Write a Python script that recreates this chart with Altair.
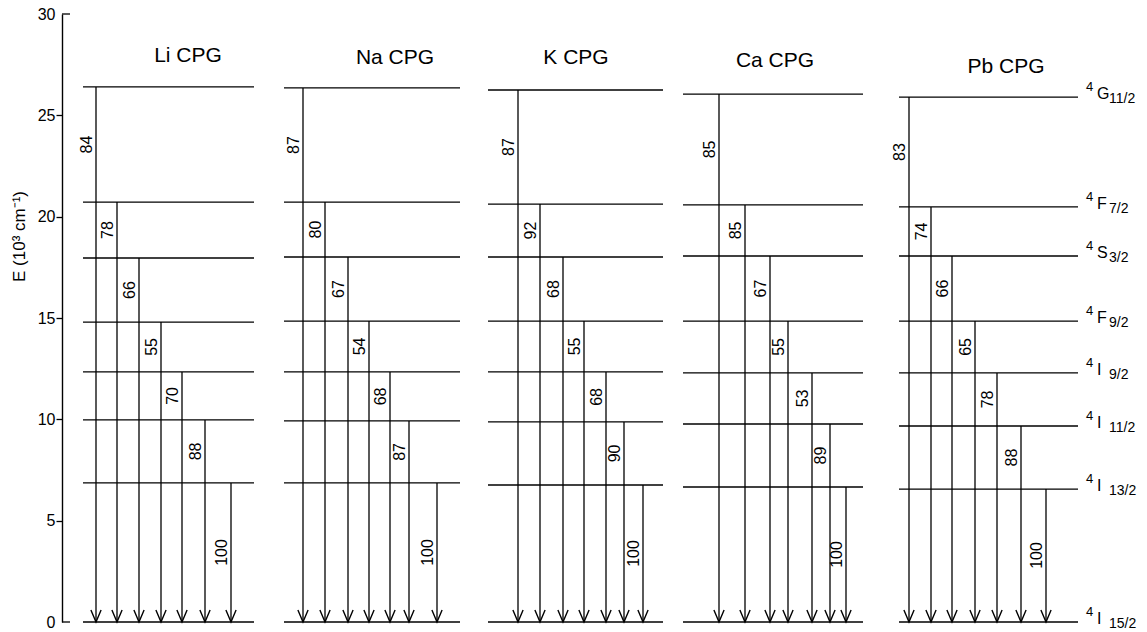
import altair as alt
import pandas as pd

# ---------------- data ----------------
PANELS = ["Li CPG", "Na CPG", "K CPG", "Ca CPG", "Pb CPG"]

# Er3+ level energies (10^3 cm^-1): 4G11/2, 4F7/2, 4S3/2, 4F9/2, 4I9/2, 4I11/2, 4I13/2
LEVEL_LI = [26.40, 20.72, 17.96, 14.80, 12.34, 9.97, 6.86]
LEVEL_NA = [26.35, 20.72, 18.01, 14.85, 12.34, 9.92, 6.86]
LEVEL_K = [26.25, 20.62, 18.01, 14.85, 12.34, 9.87, 6.76]
LEVEL_CA = [26.05, 20.58, 18.06, 14.85, 12.29, 9.77, 6.66]
LEVEL_PB = [25.90, 20.48, 18.06, 14.85, 12.29, 9.67, 6.56]
GROUND = 0.0

# branching percentages of each arrow (top level first)
PCT_LI = [84, 78, 66, 55, 70, 88, 100]
PCT_NA = [87, 80, 67, 54, 68, 87, 100]
PCT_K = [87, 92, 68, 55, 68, 90, 100]
PCT_CA = [85, 85, 67, 55, 53, 89, 100]
PCT_PB = [83, 74, 66, 65, 78, 88, 100]

TERM_SUP = ["4"] * 8
TERM_LETTER = ["G", "F", "S", "F", "I", "I", "I", "I"]
TERM_J = ["11/2", "7/2", "3/2", "9/2", "9/2", "11/2", "13/2", "15/2"]

LEVELS = [LEVEL_LI, LEVEL_NA, LEVEL_K, LEVEL_CA, LEVEL_PB]
PCTS = [PCT_LI, PCT_NA, PCT_K, PCT_CA, PCT_PB]

# ---------------- layout (pixels) ----------------
X0 = 62          # left edge of plot area (y axis)
TOP = 14         # top of plot area (value 30)
W = 1083
H = 608
PANEL_LEFT = [83, 284, 488, 683, 899]
PANEL_RIGHT = [254, 460, 663, 863, 1078]
ARROW_X = [
    [96, 117, 139, 161, 182, 205, 231],
    [303, 325, 348, 369, 390, 409, 437],
    [518, 540, 563, 584, 606, 624, 643],
    [719, 745, 770, 788, 812, 830, 846],
    [909, 931, 952, 975, 997, 1021, 1046],
]
TITLE_X = [188, 395, 576, 775, 1006]
TITLE_E = [27.95, 27.85, 27.85, 27.70, 27.40]
TERM_SUP_X, TERM_LET_X, TERM_J_X = 1086, 1097, 1109
CORNER_LEN = 8

# ---------------- tables ----------------
lev_rows, arr_rows = [], []
for p, name in enumerate(PANELS):
    levs = LEVELS[p] + [GROUND]
    for E in levs:
        lev_rows.append(dict(panel=name, E=E,
                             x1=PANEL_LEFT[p] - X0, x2=PANEL_RIGHT[p] - X0))
    for k in range(7):
        arr_rows.append(dict(panel=name, E=levs[k], zero=0.0,
                             x=ARROW_X[p][k] - X0,
                             pct=str(PCTS[p][k]),
                             ylab=(levs[k] + levs[k + 1]) / 2))
lev_df = pd.DataFrame(lev_rows)
arr_df = pd.DataFrame(arr_rows)
title_df = pd.DataFrame(dict(name=PANELS, x=[t - X0 for t in TITLE_X], E=TITLE_E))
term_E = LEVEL_PB + [GROUND]
term_df = pd.DataFrame(dict(E=term_E, sup=TERM_SUP, let=TERM_LETTER, j=TERM_J,
                            xs=TERM_SUP_X - X0, xl=TERM_LET_X - X0, xj=TERM_J_X - X0))
corner_df = pd.DataFrame(dict(E=[0.0, 30.0], x1=[0, 0], x2=[CORNER_LEN, CORNER_LEN]))

# ---------------- encodings ----------------
FONT = "Liberation Sans"
X_SCALE = alt.Scale(domain=[0, W], nice=False, zero=False)
Y_SCALE = alt.Scale(domain=[0, 30], nice=False, zero=False)
Y_AXIS = alt.Axis(
    values=[0, 5, 10, 15, 20, 25, 30], tickSize=6, tickWidth=1.3,
    tickColor="black", domainColor="black", domainWidth=1.4,
    tickOpacity={"condition": {"test": "datum.value == 0 || datum.value == 30", "value": 0}, "value": 1},
    labelColor="black", labelFont=FONT, labelFontSize=16, labelPadding=1,
    grid=False, title="E (10³ cm⁻¹)", titleFont=FONT, titleFontSize=17,
    titleFontWeight="normal", titleColor="black", titleX=-34, titleY=222,
)


def xe(f):
    return alt.X(f"{f}:Q", scale=X_SCALE, axis=None)


def ye(f):
    return alt.Y(f"{f}:Q", scale=Y_SCALE, axis=Y_AXIS)


levels = alt.Chart(lev_df).mark_rule(color="black", strokeWidth=1.3).encode(
    x=xe("x1"), x2="x2:Q", y=ye("E"))

shafts = alt.Chart(arr_df).mark_rule(color="black", strokeWidth=1.3).encode(
    x=xe("x"), y=ye("E"), y2="zero:Q")

heads = alt.Chart(arr_df).mark_point(
    shape="M-0.85,-2L0,0L0.85,-2", filled=False, size=144,
    color="black", strokeWidth=1.4, opacity=1).encode(
    x=xe("x"), y=ye("zero"))

pct_labels = alt.Chart(arr_df).mark_text(
    angle=270, align="center", baseline="bottom", dy=-1,
    font=FONT, fontSize=16, fontWeight="normal", color="black").encode(
    x=xe("x"), y=ye("ylab"), text="pct:N")

titles = alt.Chart(title_df).mark_text(
    font=FONT, fontSize=21, fontWeight="normal", color="black",
    align="center", baseline="middle").encode(
    x=xe("x"), y=ye("E"), text="name:N")

t_sup = alt.Chart(term_df).mark_text(
    font=FONT, fontSize=13, fontWeight="normal", color="black",
    align="left", baseline="middle", dy=-10).encode(
    x=xe("xs"), y=ye("E"), text="sup:N")
t_let = alt.Chart(term_df).mark_text(
    font=FONT, fontSize=16, fontWeight="normal", color="black",
    align="left", baseline="middle", dy=-3).encode(
    x=xe("xl"), y=ye("E"), text="let:N")
t_j = alt.Chart(term_df).mark_text(
    font=FONT, fontSize=14, fontWeight="normal", color="black",
    align="left", baseline="middle", dy=2).encode(
    x=xe("xj"), y=ye("E"), text="j:N")

corners = alt.Chart(corner_df).mark_rule(color="black", strokeWidth=1.3).encode(
    x=xe("x1"), x2="x2:Q", y=ye("E"))

chart = alt.layer(levels, shafts, heads, pct_labels, titles, t_sup, t_let, t_j, corners).properties(
    width=W, height=H,
    autosize=alt.AutoSizeParams(type="none"),
    padding={"left": X0, "top": TOP, "right": 2, "bottom": 10},
    background="white",
).configure_view(stroke=None).configure_axis(
    titleFontSize=17, titleFont=FONT, titleFontWeight="normal", titleColor="black"
)

chart.save("out.html", embed_options={"renderer": "svg", "actions": False})
